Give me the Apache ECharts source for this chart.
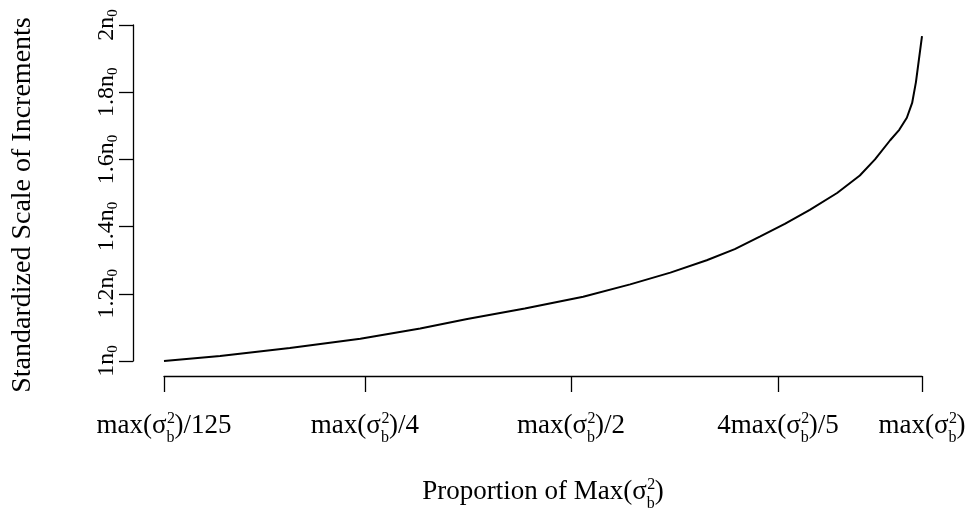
<!DOCTYPE html>
<html>
<head>
<meta charset="utf-8">
<script src="https://cdn.jsdelivr.net/npm/echarts@6/dist/echarts.min.js"></script>
<style>
  html, body { margin: 0; padding: 0; background: #fff; }
  #main { width: 972px; height: 508px; }
</style>
</head>
<body>
<div id="main"></div>
<script>
// position along the x axis (0 = first tick, 100 = last tick)
var xPos = [0, 7.4, 16.6, 25.9, 33.8, 40.0, 47.6, 55.3, 61.5, 66.8, 71.6, 75.3, 78.6, 81.9, 85.2, 88.8, 91.8, 93.8, 95.8, 97.0, 98.0, 98.7, 99.2, 100];
var scaleVals = [1.000, 1.015, 1.039, 1.066, 1.097, 1.125, 1.156, 1.191, 1.228, 1.263, 1.300, 1.333, 1.370, 1.408, 1.450, 1.500, 1.552, 1.600, 1.657, 1.688, 1.724, 1.768, 1.830, 1.967];

// x tick positions and their label parts (prefix + max(σ_b^2) + suffix)
var xTickPos = [0, 26.5, 53.7, 81.0, 100];
var xTickPrefix = ['', '', '', '4', ''];
var xTickSuffix = ['/125', '/4', '/2', '/5', ''];

var FONT = 'Liberation Serif';

function sigmaLabel(i) {
    return '{t|' + xTickPrefix[i] + 'max(σ}{sup|2}{sub|b}{t|)' + xTickSuffix[i] + '}';
}

var data = [];
for (var i = 0; i < xPos.length; i++) {
    data.push([xPos[i], scaleVals[i]]);
}

var myChart = echarts.init(document.getElementById('main'));

var scriptRich = {
    sup: { fontFamily: FONT, fontSize: 16, lineHeight: 16, verticalAlign: 'top', color: '#000',
           width: 0.01, padding: [2, -4.5, 0, 4.5] },
    sub: { fontFamily: FONT, fontSize: 16, lineHeight: 16, verticalAlign: 'bottom', color: '#000',
           padding: [0, 0, -3, 0] }
};

var option = {
    animation: false,
    backgroundColor: '#fff',
    grid: {
        left: 164,
        right: 50,
        top: 25,
        bottom: 147,
        outerBoundsMode: 'none'
    },
    xAxis: {
        type: 'value',
        min: 0,
        max: 100,
        offset: 15,
        splitLine: { show: false },
        axisLine: { show: true, onZero: false, lineStyle: { color: '#000', width: 1.3 } },
        axisTick: {
            show: true,
            length: 16,
            customValues: xTickPos,
            lineStyle: { color: '#000', width: 1.3 }
        },
        axisLabel: {
            customValues: xTickPos,
            margin: 33,
            color: '#000',
            formatter: function (v) {
                var idx = xTickPos.indexOf(v);
                return idx < 0 ? '' : sigmaLabel(idx);
            },
            rich: {
                t: { fontFamily: FONT, fontSize: 27, lineHeight: 34, color: '#000' },
                sup: scriptRich.sup,
                sub: scriptRich.sub
            }
        },
        name: 'Proportion of Max({s|σ}{sup|2}{sub|b}{s|)}',
        nameLocation: 'middle',
        nameGap: 99,
        nameMoveOverlap: false,
        nameTextStyle: {
            fontFamily: FONT,
            fontSize: 27,
            color: '#000',
            rich: {
                s: { fontFamily: FONT, fontSize: 27, lineHeight: 34, color: '#000' },
                sup: scriptRich.sup,
                sub: scriptRich.sub
            }
        }
    },
    yAxis: {
        type: 'value',
        min: 1,
        max: 2,
        interval: 0.2,
        offset: 31,
        splitLine: { show: false },
        axisLine: { show: true, onZero: false, lineStyle: { color: '#000', width: 1.3 } },
        axisTick: { show: true, length: 14, lineStyle: { color: '#000', width: 1.3 } },
        axisLabel: {
            rotate: 90,
            margin: 12,
            color: '#000',
            formatter: function (v) {
                var s = (Math.abs(v - Math.round(v)) < 1e-6) ? String(Math.round(v)) : v.toFixed(1);
                return '{t|' + s + 'n}{sub|0}';
            },
            rich: {
                t: { fontFamily: FONT, fontSize: 24, lineHeight: 28, color: '#000' },
                sub: { fontFamily: FONT, fontSize: 15, lineHeight: 15, verticalAlign: 'bottom', color: '#000' }
            }
        },
        name: 'Standardized Scale of Increments',
        nameLocation: 'middle',
        nameRotate: 90,
        nameGap: 96,
        nameMoveOverlap: false,
        nameTextStyle: {
            fontFamily: FONT,
            fontSize: 28,
            color: '#000',
            padding: [0, 24, 0, 0]
        }
    },
    series: [
        {
            type: 'line',
            data: data,
            showSymbol: false,
            symbol: 'none',
            smooth: false,
            lineStyle: { color: '#000', width: 2 }
        }
    ]
};
myChart.setOption(option);
</script>
</body>
</html>
